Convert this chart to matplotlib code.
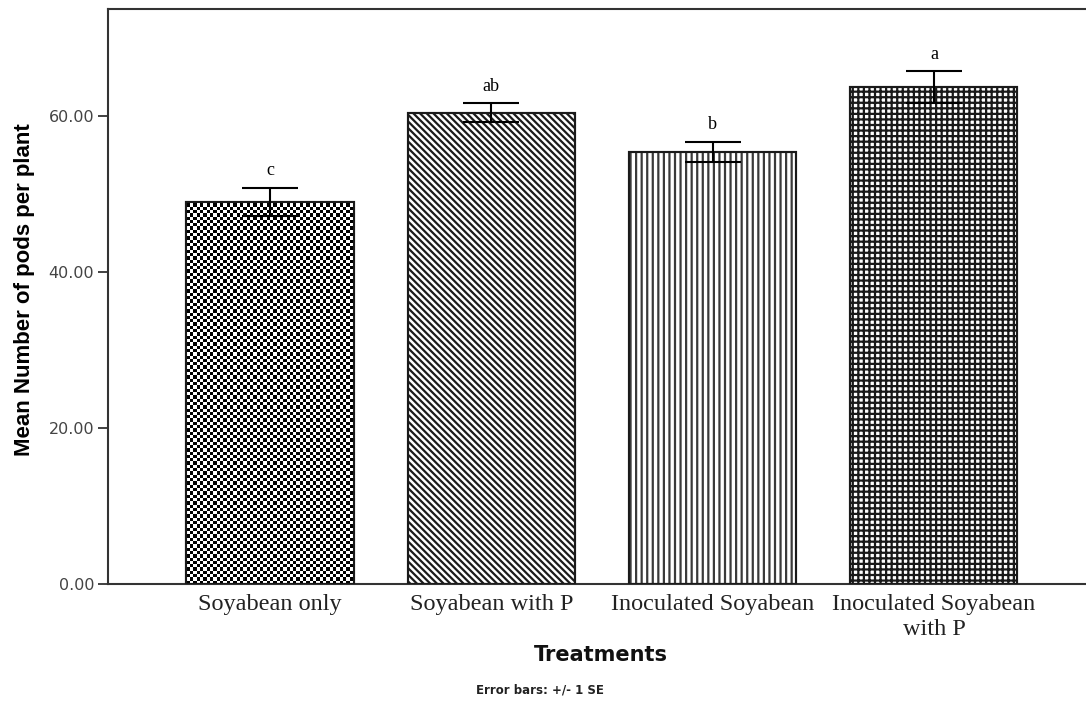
import numpy as np
import matplotlib.pyplot as plt

treatments = ['Soyabean only', 'Soyabean with P', 'Inoculated Soyabean',
              'Inoculated Soyabean\nwith P']
mean_pods = [49.0, 60.4, 55.4, 63.7]
se_pods = [1.8, 1.2, 1.3, 2.0]
letters = ['c', 'ab', 'b', 'a']
yticks = [0, 20, 40, 60]

plt.rcParams['hatch.linewidth'] = 1.6

fig = plt.figure(figsize=(10.86, 7.04), dpi=100)
ax = fig.add_axes([0.0994, 0.1705, 0.9006, 0.8168])

x = np.arange(len(treatments))
hatches = [None, '\\' * 5, '|||', '+++']
bars = ax.bar(x, mean_pods, width=0.755, color='white', edgecolor='#1a1a1a',
              linewidth=1.5, zorder=2)
for b, h in zip(bars, hatches):
    if h:
        b.set_hatch(h)
bars[2].set_edgecolor('#3a3a3a')
bars[3].set_edgecolor('#1a1a1a')

# checkerboard fill for the first bar (no such hatch in matplotlib)
nx, ny = 296, 174
checker = np.add.outer(np.arange(ny), np.arange(nx)) % 2
img = ax.imshow(checker, cmap='gray_r', extent=[0, 1, 0, 1],
                transform=ax.transAxes, aspect='auto',
                interpolation='nearest', zorder=2.5)
img.set_clip_path(bars[0])
# outlines on top again
ax.bar(x, mean_pods, width=0.755, fill=False, edgecolor='#1a1a1a',
       linewidth=1.5, zorder=3)

ax.errorbar(x, mean_pods, yerr=se_pods, fmt='none', ecolor='black',
            elinewidth=1.5, capsize=20, capthick=1.5, zorder=4)

for xi, m, s, l in zip(x, mean_pods, se_pods, letters):
    ax.annotate(l, (xi, m + s), xytext=(0, 9), textcoords='offset points',
                ha='center', va='baseline', family='Liberation Serif',
                fontsize=13)

ax.set_xlim(-0.732, 3.687)
ax.set_ylim(0, 73.7)

ax.spines['right'].set_visible(False)
for s in ['left', 'top', 'bottom']:
    ax.spines[s].set_color('#333333')
    ax.spines[s].set_linewidth(1.5)

ax.set_yticks(yticks)
ax.set_yticklabels([f'{v:.2f}' for v in yticks], family='DejaVu Sans',
                   fontsize=11.5, color='#444444')
ax.tick_params(axis='y', length=7, width=1.3, color='#333333', pad=3)

ax.set_xticks(x)
ax.set_xticklabels(treatments, family='Liberation Serif', fontsize=17.5,
                   color='#222222', linespacing=1.25)
ax.tick_params(axis='x', length=0, pad=7)

fig.text(25 / 1086, 1 - 290 / 704, 'Mean Number of pods per plant',
         rotation=90, ha='center', va='center', fontsize=16,
         fontweight='bold', family='Liberation Sans')
fig.text(601 / 1086, 1 - 655 / 704, 'Treatments', ha='center', va='center',
         fontsize=15, fontweight='bold', family='DejaVu Sans', color='#111111')
fig.text(540 / 1086, 1 - 690 / 704, 'Error bars: +/- 1 SE', ha='center',
         va='center', fontsize=8.5, fontweight='bold', family='DejaVu Sans',
         color='#222222')

fig.savefig('out.png', dpi=100)
